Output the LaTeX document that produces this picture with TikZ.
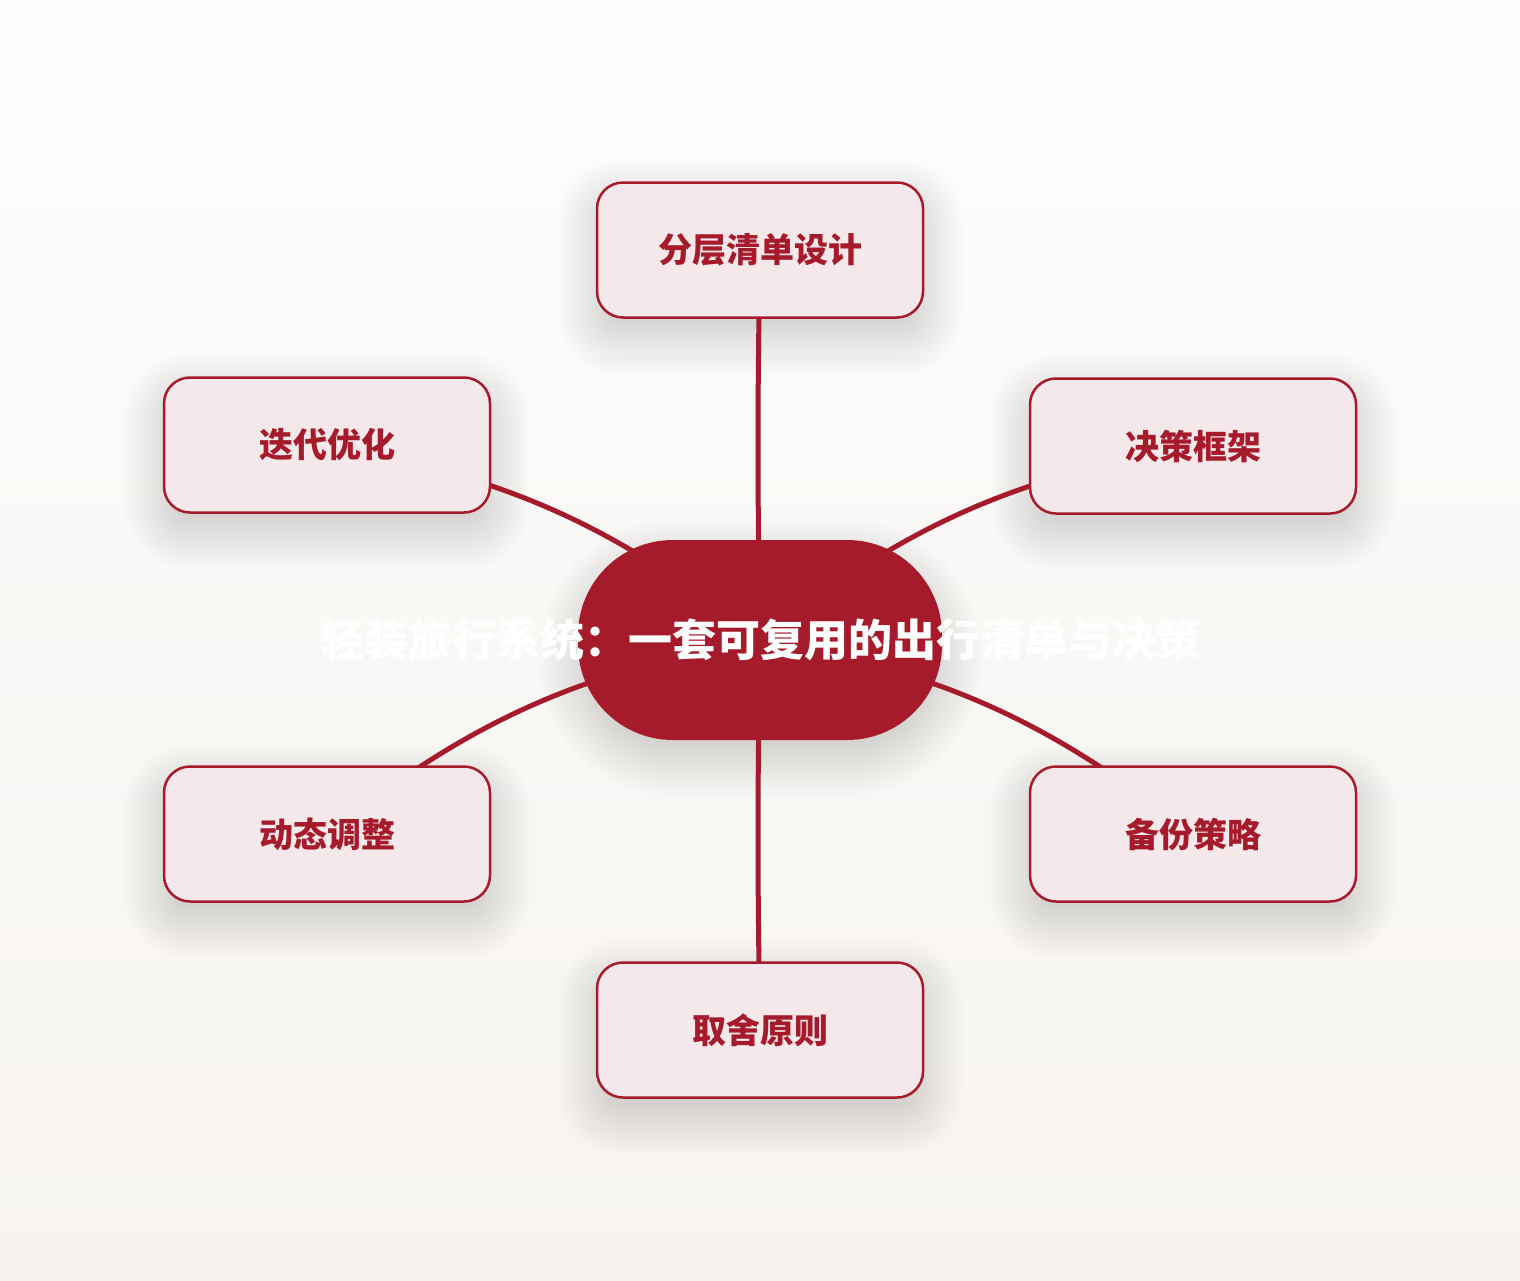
\documentclass[tikz,border=0pt]{standalone}
\usepackage{fontspec}
\newfontfamily\cjk{Noto Sans CJK SC}
\usepackage{tikz}
\usetikzlibrary{backgrounds}
\definecolor{tripred}{HTML}{A51B2B}
\definecolor{trippink}{HTML}{F4E8EB}
\definecolor{bgtop}{HTML}{FDFDFC}
\definecolor{bgbottom}{HTML}{F7F4F0}

\begin{document}
\begin{tikzpicture}[x=1pt, y=-1pt,
            hub/.style={rectangle, rounded corners=95pt, fill=tripred, minimum width=364pt, minimum height=200pt}, % Centre pill
            hub text/.style={text=white, font=\cjk\bfseries\fontsize{44}{52}\selectfont}, % Title on the pill
            topic/.style={rectangle, rounded corners=26pt, draw=tripred, line width=2.5pt, fill=trippink, minimum width=326pt, minimum height=135pt, text=tripred, font=\cjk\bfseries\fontsize{34}{40}\selectfont}, % Outer boxes
            haze/.style={fill=black, fill opacity=0.009}, % One layer of the soft shadow
            link/.style={draw=tripred, line width=5pt} % Connectors
            ]

                \useasboundingbox (0,0) rectangle (1520,1280);

                % Centre node, title sits on top as a label
                \node[hub, label={[hub text]center:轻装旅行系统：一套可复用的出行清单与决策}] (system) at (760,640) {};

                % Topics round the centre
                \node[topic] (layers) at (760,250) {分层清单设计};
                \node[topic] (decide) at (1193,446) {决策框架};
                \node[topic] (backup) at (1193,834) {备份策略};
                \node[topic] (tradeoff) at (760,1030) {取舍原则};
                \node[topic] (adjust) at (327,834) {动态调整};
                \node[topic] (iterate) at (327,445) {迭代优化};

                \begin{scope}[on background layer]
                    \shade[top color=bgtop, bottom color=bgbottom] (0,0) rectangle (1520,1280);
                    % Shadows: stacked faint rounded boxes, shifted down
                    \foreach \nd in {layers,decide,backup,tradeoff,adjust,iterate}
                        \foreach \g in {-8,...,13}
                            \fill[haze, rounded corners={26pt+3pt*(\g)}] ([xshift={-3pt*(\g)}, yshift={3pt*(\g)-17pt}]\nd.north west) rectangle ([xshift={3pt*(\g)}, yshift={-3pt*(\g)-17pt}]\nd.south east);
                    \foreach \g in {-8,...,13}
                        \fill[haze, rounded corners={95pt+3pt*(\g)}] ([xshift={-3pt*(\g)}, yshift={3pt*(\g)-17pt}]system.north west) rectangle ([xshift={3pt*(\g)}, yshift={-3pt*(\g)-17pt}]system.south east);
                    % Connectors
                    \draw[link] (system.center) to[bend left=1] (layers.center);
                    \draw[link] (system.center) to[bend left=14] (decide.center);
                    \draw[link] (system.center) to[bend left=14] (backup.center);
                    \draw[link] (system.center) to[bend right=1] (tradeoff.center);
                    \draw[link] (system.center) to[bend right=14] (adjust.center);
                    \draw[link] (system.center) to[bend right=14] (iterate.center);
                \end{scope}

            \end{tikzpicture}
\end{document}
